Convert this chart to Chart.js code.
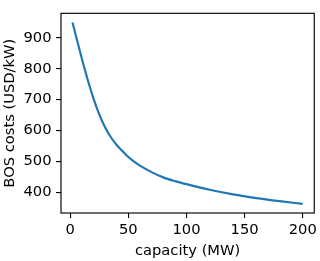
<!DOCTYPE html>
<html>
<head>
<meta charset="utf-8">
<script src="https://cdn.jsdelivr.net/npm/chart.js@4.4.1/dist/chart.umd.min.js"></script>
<style>
  html, body { margin: 0; padding: 0; background: #fff; }
</style>
</head>
<body>
<canvas id="chart" width="320" height="261"></canvas>
<script>
// capacity in MW, costs in USD/kW
const capacity = [2, 5, 10, 15, 20, 25, 30, 35, 40, 45, 50, 55, 60, 70, 80, 90, 100, 120, 140, 160, 180, 200];
const bosCosts = [950, 905, 833, 765, 704, 652, 610, 578, 553, 533, 514, 499, 486, 465, 448, 436, 426, 408, 393, 381, 371, 362];
const xTicks = [0, 50, 100, 150, 200];
const yTicks = [400, 500, 600, 700, 800, 900];

const font = { family: 'DejaVu Sans', size: 14.7 };

// matplotlib-like box around the plot area
const frame = {
  id: 'frame',
  afterDraw(chart) {
    const { ctx, chartArea: a } = chart;
    ctx.save();
    ctx.strokeStyle = '#000';
    ctx.lineWidth = 1.15;
    ctx.strokeRect(a.left, a.top, a.right - a.left, a.bottom - a.top);
    ctx.restore();
  }
};

new Chart(document.getElementById('chart'), {
  type: 'line',
  data: {
    datasets: [{
      data: capacity.map((c, i) => ({ x: c, y: bosCosts[i] })),
      borderColor: '#1f77b4',
      borderWidth: 2.2,
      pointRadius: 0,
      cubicInterpolationMode: 'monotone',
      fill: false
    }]
  },
  options: {
    responsive: false,
    animation: false,
    devicePixelRatio: 1,
    layout: { padding: { top: 3, right: 5, left: 0, bottom: 0 } },
    plugins: { legend: { display: false }, tooltip: { enabled: false } },
    scales: {
      x: {
        type: 'linear',
        min: -7.9,
        max: 209.9,
        afterBuildTicks: s => { s.ticks = xTicks.map(v => ({ value: v })); },
        afterFit: s => { s.height = 48; },
        border: { display: false },
        grid: { drawOnChartArea: false, drawTicks: true, tickLength: 5, color: '#000', lineWidth: 1.1 },
        ticks: { font, color: '#000', padding: 3, maxRotation: 0 },
        title: { display: true, text: 'capacity (MW)', font, color: '#000', padding: { top: 0, bottom: 0.7 } }
      },
      y: {
        type: 'linear',
        min: 332.6,
        max: 979.4,
        afterBuildTicks: s => { s.ticks = yTicks.map(v => ({ value: v })); },
        afterFit: s => { s.width = 61; },
        border: { display: false },
        grid: { drawOnChartArea: false, drawTicks: true, tickLength: 5, color: '#000', lineWidth: 1.1 },
        ticks: { font, color: '#000', padding: 4.5 },
        title: { display: true, text: 'BOS costs (USD/kW)', font, color: '#000', padding: { top: 1.2, bottom: 0 } }
      }
    }
  },
  plugins: [frame]
});
</script>
</body>
</html>
